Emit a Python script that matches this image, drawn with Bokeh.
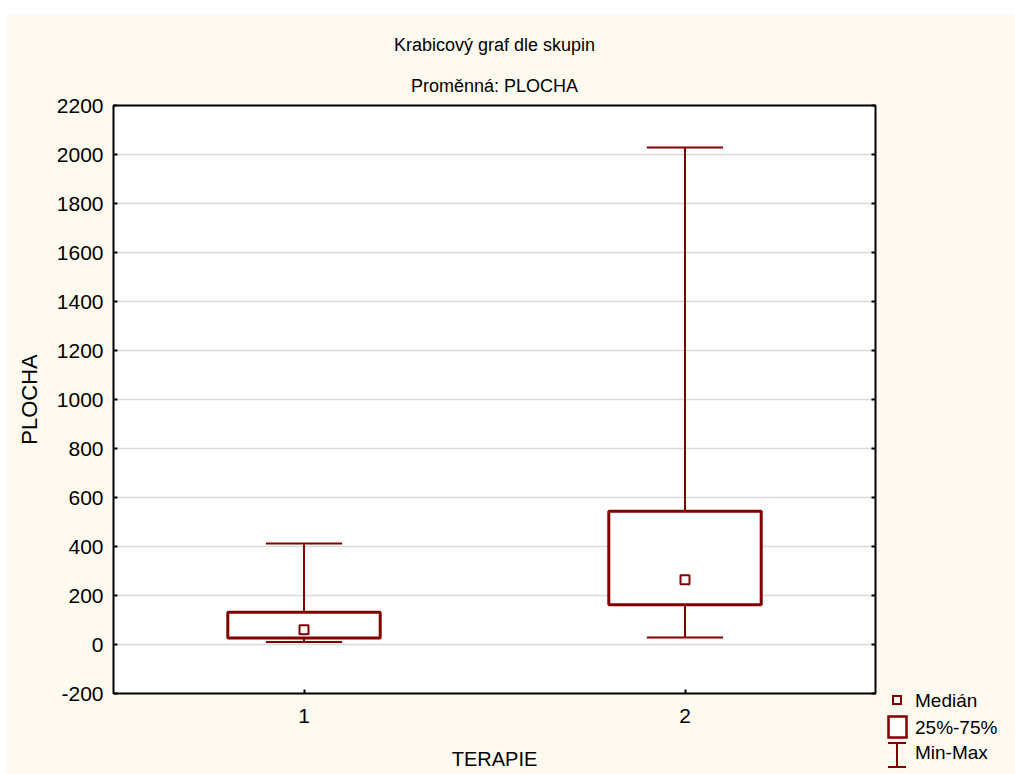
from bokeh.plotting import figure
from bokeh.layouts import row, column
from bokeh.models import (ColumnDataSource, FixedTicker, LinearAxis, Title,
                          Range1d, Div, Spacer)
from bokeh.embed import file_html
from bokeh.resources import INLINE

# ---- data ----
groups = [1, 2]
group_labels = ["1", "2"]
minimum = [10, 29]
q1 = [27, 162]
median = [60, 264]
q3 = [132, 544]
maximum = [412, 2029]
y_ticks = list(range(-200, 2201, 200))
legend_labels = ["Medián", "25%-75%", "Min-Max"]

BOX_W = 0.4
CAP_W = 0.2
DARK_RED = "#800000"
FONT = "Liberation Sans"
FS_TITLE = "18px"
FS_TICK = "21px"
CREAM = "#fffaf0"

src = ColumnDataSource(dict(
    x=groups, lo=minimum, q1=q1, med=median, q3=q3, hi=maximum,
    cap_l=[g - CAP_W / 2 for g in groups],
    cap_r=[g + CAP_W / 2 for g in groups],
))

p = figure(width=880, height=759, output_backend="svg", toolbar_location=None,
           x_range=Range1d(0.5, 2.5), y_range=Range1d(-200, 2200),
           min_border_left=106, min_border_right=12, min_border_top=90,
           min_border_bottom=81)
p.margin = 0
p.border_fill_color = CREAM
p.background_fill_color = "white"
p.outline_line_color = "black"
p.outline_line_width = 2
p.outline_line_alpha = 1

# titles
p.title.text = "Krabicový graf dle skupin"
p.title.align = "center"
p.title.text_font = FONT
p.title.text_font_size = FS_TITLE
p.title.text_font_style = "normal"
p.title.text_color = "black"
p.title.standoff = 14
p.add_layout(Title(text="Proměnná: PLOCHA", align="center",
                   text_font=FONT, text_font_size=FS_TITLE, text_color="black",
                   text_font_style="normal", standoff=19,
                   padding=(0, 0, 3, 0)), "above")

# whiskers
p.segment(x0="x", y0="q3", x1="x", y1="hi", source=src,
          line_color=DARK_RED, line_width=2)
p.segment(x0="x", y0="lo", x1="x", y1="q1", source=src,
          line_color=DARK_RED, line_width=2)
p.segment(x0="cap_l", y0="hi", x1="cap_r", y1="hi", source=src,
          line_color=DARK_RED, line_width=2)
p.segment(x0="cap_l", y0="lo", x1="cap_r", y1="lo", source=src,
          line_color=DARK_RED, line_width=2)
# boxes
p.vbar(x="x", width=BOX_W, bottom="q1", top="q3", source=src,
       fill_color="white", line_color=DARK_RED, line_width=3)
# medians
p.scatter(x="x", y="med", source=src, marker="square", size=9,
          fill_color="white", line_color=DARK_RED, line_width=2)

# axes
xa = p.xaxis[0]
xa.ticker = FixedTicker(ticks=groups)
xa.major_label_overrides = {g: lab for g, lab in zip(groups, group_labels)}
xa.axis_label = "TERAPIE"
ya = p.yaxis[0]
ya.ticker = FixedTicker(ticks=y_ticks)
ya.major_label_overrides = {t: str(t) for t in y_ticks}
ya.axis_label = "PLOCHA"
for ax in (xa, ya):
    ax.axis_line_color = None
    ax.major_tick_in = 4
    ax.major_tick_out = 0
    ax.major_tick_line_color = "black"
    ax.major_tick_line_width = 2
    ax.minor_tick_line_color = None
    ax.major_label_text_font = FONT
    ax.major_label_text_font_size = FS_TICK
    ax.major_label_text_color = "black"
    ax.axis_label_text_font = FONT
    ax.axis_label_text_font_style = "normal"
    ax.axis_label_text_color = "black"
xa.axis_label_text_font_size = "20px"
ya.axis_label_text_font_size = "22px"
xa.major_label_standoff = 15
xa.axis_label_standoff = 22
ya.major_label_standoff = 10
ya.axis_label_standoff = 12

ra = LinearAxis(ticker=FixedTicker(ticks=y_ticks), axis_line_color=None,
                major_tick_in=4, major_tick_out=0, major_tick_line_width=2,
                minor_tick_line_color=None, major_label_text_color=None,
                major_label_text_font_size="1px", major_label_standoff=0)
p.add_layout(ra, "right")

p.xgrid.grid_line_color = None
p.ygrid.grid_line_color = "#dadada"
p.ygrid.grid_line_width = 1.5

# ---- legend (key symbols + labels) ----
txt = (f'font-family:{FONT};font-size:19px;fill:black')
legend_svg = (
    '<svg xmlns="http://www.w3.org/2000/svg" width="128" height="86" '
    'style="display:block">'
    f'<rect x="6" y="8" width="8" height="8" fill="white" stroke="{DARK_RED}" stroke-width="2"/>'
    f'<rect x="1.5" y="28.5" width="18" height="21" fill="white" stroke="{DARK_RED}" stroke-width="2.5"/>'
    f'<line x1="10" y1="54" x2="10" y2="80" stroke="{DARK_RED}" stroke-width="2"/>'
    f'<line x1="1" y1="55" x2="19" y2="55" stroke="{DARK_RED}" stroke-width="2"/>'
    f'<line x1="1" y1="79" x2="19" y2="79" stroke="{DARK_RED}" stroke-width="2"/>'
    f'<text x="28" y="12" dominant-baseline="central" style="{txt}">{legend_labels[0]}</text>'
    f'<text x="28" y="39" dominant-baseline="central" style="{txt}">{legend_labels[1]}</text>'
    f'<text x="28" y="64" dominant-baseline="central" style="{txt}">{legend_labels[2]}</text>'
    '</svg>'
)
legend_div = Div(text=legend_svg, width=128, height=86, margin=0)
side = column(Spacer(width=128, height=673, margin=0), legend_div,
              spacing=0, margin=0)

layout = row(p, side, spacing=0)
layout.margin = (15, 0, 0, 7)
layout.styles = {"background-color": CREAM}

open("out.html", "w").write(file_html(layout, INLINE))
